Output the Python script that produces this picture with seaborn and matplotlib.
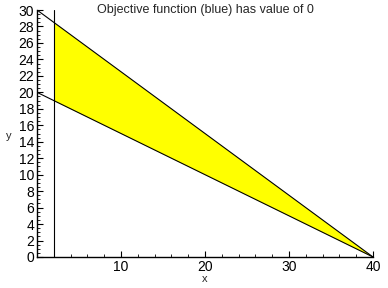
import matplotlib
matplotlib.use("Agg")
import matplotlib.pyplot as plt
import seaborn as sns
import numpy as np
import pandas as pd
from matplotlib.ticker import MultipleLocator

# Data
line_x = [0, 40]
upper_line_y = [30, 0]
lower_line_y = [20, 0]
vline_x = [2, 2]
vline_y = [0, 30]
fill_x = [2, 40]
fill_upper = [28.5, 0]
fill_lower = [19, 0]
title_text = "Objective function (blue) has value of 0"
x_ticks = [10, 20, 30, 40]
y_ticks = list(range(0, 31, 2))

sns.set_theme(style="white")
plt.rcParams['font.family'] = ['Liberation Sans', 'DejaVu Sans']

fig = plt.figure(figsize=(3.88, 2.88), dpi=100)
ax = fig.add_axes([37/388, 31/288, 336/388, 247/288])

ax.fill_between(fill_x, fill_lower, fill_upper, color="#ffff00", linewidth=0, zorder=1)
df = pd.DataFrame({"x": line_x + line_x,
                   "y": upper_line_y + lower_line_y,
                   "line": ["upper", "upper", "lower", "lower"]})
sns.lineplot(data=df, x="x", y="y", units="line", estimator=None,
             color="black", linewidth=0.8, ax=ax, zorder=3)
sns.lineplot(x=vline_x, y=vline_y, color="black", linewidth=0.8, ax=ax,
             zorder=3, sort=False, estimator=None, errorbar=None)

ax.set_xlim(0, 40)
ax.set_ylim(0, 30)
for s in ["top", "right"]:
    ax.spines[s].set_visible(False)
for s in ["left", "bottom"]:
    ax.spines[s].set_color("black")
    ax.spines[s].set_linewidth(1.0)

ax.set_xticks(x_ticks)
ax.set_yticks(y_ticks)
ax.xaxis.set_minor_locator(MultipleLocator(2))
ax.yaxis.set_minor_locator(MultipleLocator(0.5))
ax.tick_params(axis="both", which="major", direction="in", length=4, width=0.8,
               colors="black", labelsize=10, pad=2, left=True, bottom=True)
ax.tick_params(axis="both", which="minor", direction="in", length=2, width=0.6,
               colors="black", left=True, bottom=True)
ax.set_xlabel("x", fontsize=8, labelpad=0)
ax.set_ylabel("y", fontsize=8, rotation=0)
ax.yaxis.set_label_coords(-0.085, 0.47)
fig.text(205/388, 1 - 10/288, title_text, fontsize=9, ha="center", va="center")
ax.grid(False)
ax.set_facecolor("white")

fig.savefig("out.png", dpi=100)
